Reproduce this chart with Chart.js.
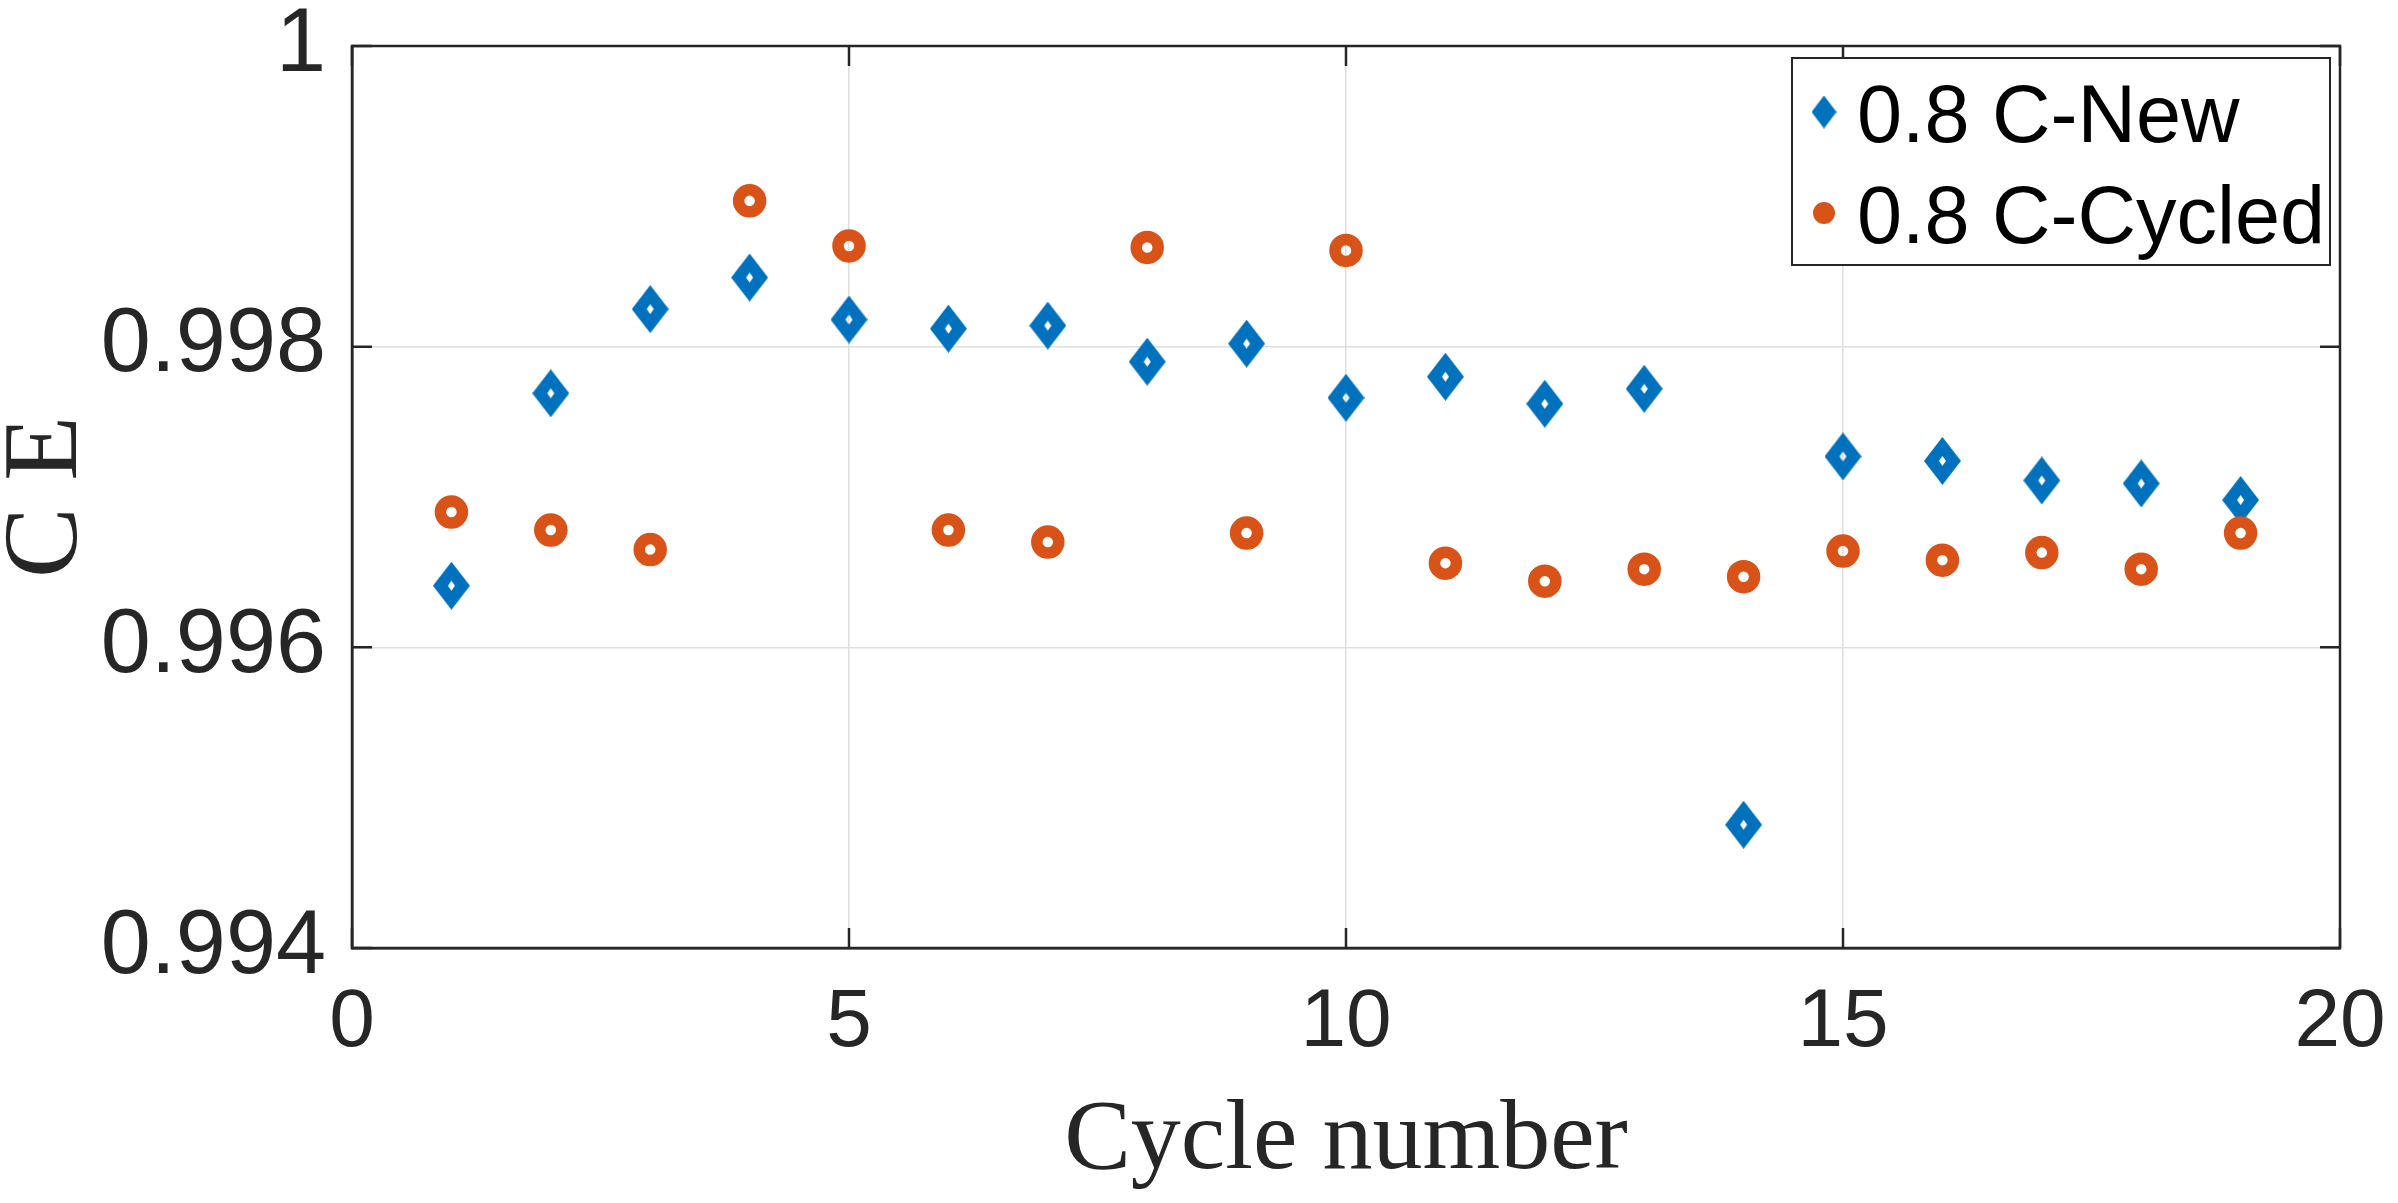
<!DOCTYPE html>
<html>
<head>
<meta charset="utf-8">
<script src="https://cdn.jsdelivr.net/npm/chart.js@4.4.1/dist/chart.umd.min.js"></script>
<style>
  html, body { margin: 0; padding: 0; background: #fff; }
  #wrap { width: 2398px; height: 1203px; }
</style>
</head>
<body>
<div id="wrap"><canvas id="chart" width="2398" height="1203"></canvas></div>
<script>
// data
const cycles = [1, 2, 3, 4, 5, 6, 7, 8, 9, 10, 11, 12, 13, 14, 15, 16, 17, 18, 19];
const ceNew = [0.99641, 0.99769, 0.99825, 0.99846, 0.99818, 0.99812, 0.99814, 0.99790, 0.99802, 0.99766,
               0.99780, 0.99762, 0.99772, 0.99482, 0.99727, 0.99724, 0.99711, 0.99709, 0.99698];
const ceCycled = [0.99690, 0.99678, 0.99665, 0.99897, 0.99867, 0.99678, 0.99670, 0.99866, 0.99676, 0.99864,
                  0.99656, 0.99644, 0.99652, 0.99647, 0.99664, 0.99658, 0.99663, 0.99652, 0.99676];
const seriesNames = ['0.8 C-New', '0.8 C-Cycled'];

const xTicks = [0, 5, 10, 15, 20];
const xTickLabels = ['0', '5', '10', '15', '20'];
const yTicks = [0.994, 0.996, 0.998, 1];
const yTickLabels = ['0.994', '0.996', '0.998', '1'];

const BLUE = '#0072BD';
const ORANGE = '#D95319';
const AXIS = '#262626';

// diamond marker drawn once, used as a point style
function diamondGlyph(w, h, hw, hh) {
  const c = document.createElement('canvas');
  c.width = w; c.height = h;
  const g = c.getContext('2d');
  g.fillStyle = BLUE;
  g.beginPath();
  g.moveTo(w / 2, 0); g.lineTo(w, h / 2); g.lineTo(w / 2, h); g.lineTo(0, h / 2); g.closePath();
  if (hw > 0) {
    g.moveTo(w / 2, h / 2 - hh); g.lineTo(w / 2 + hw, h / 2); g.lineTo(w / 2, h / 2 + hh); g.lineTo(w / 2 - hw, h / 2); g.closePath();
  }
  g.fill('evenodd');
  return c;
}
const diamond = diamondGlyph(37, 48, 3.5, 5);
const diamondSmall = diamondGlyph(25, 33, 0, 0);

// matlab style box with inward ticks
const boxPlugin = {
  id: 'box',
  afterDatasetsDraw(chart) {
    const { ctx, chartArea: a, scales: { x, y } } = chart;
    const len = 20;
    ctx.save();
    ctx.strokeStyle = AXIS;
    ctx.lineWidth = 2.5;
    ctx.strokeRect(a.left, a.top, a.right - a.left, a.bottom - a.top);
    ctx.beginPath();
    xTicks.forEach(v => {
      const px = x.getPixelForValue(v);
      ctx.moveTo(px, a.bottom); ctx.lineTo(px, a.bottom - len);
      ctx.moveTo(px, a.top); ctx.lineTo(px, a.top + len);
    });
    yTicks.forEach(v => {
      const py = y.getPixelForValue(v);
      ctx.moveTo(a.left, py); ctx.lineTo(a.left + len, py);
      ctx.moveTo(a.right, py); ctx.lineTo(a.right - len, py);
    });
    ctx.stroke();
    ctx.restore();
  },
  afterDraw(chart) {
    // legend box, top right inside the axes
    const { ctx, chartArea: a } = chart;
    const w = 538, h = 207;
    const left = a.right - 10 - w, top = a.top + 12;
    ctx.save();
    ctx.fillStyle = '#fff';
    ctx.fillRect(left, top, w, h);
    ctx.strokeStyle = AXIS;
    ctx.lineWidth = 2;
    ctx.strokeRect(left, top, w, h);
    const mx = left + 32;
    ctx.drawImage(diamondSmall, mx - diamondSmall.width / 2, top + 54 - diamondSmall.height / 2);
    ctx.fillStyle = ORANGE;
    ctx.beginPath();
    ctx.arc(mx, top + 155, 11, 0, Math.PI * 2);
    ctx.fill();
    ctx.fillStyle = '#000';
    ctx.font = '81px "Liberation Sans", Arial, sans-serif';
    ctx.textBaseline = 'alphabetic';
    ctx.fillText(seriesNames[0], left + 65, top + 84);
    ctx.fillText(seriesNames[1], left + 65, top + 185);
    ctx.restore();
  }
};

new Chart(document.getElementById('chart'), {
  type: 'scatter',
  data: {
    datasets: [
      {
        label: seriesNames[0],
        data: cycles.map((c, i) => ({ x: c, y: ceNew[i] })),
        pointStyle: diamond,
        pointRadius: 18,
        order: 1
      },
      {
        label: seriesNames[1],
        data: cycles.map((c, i) => ({ x: c, y: ceCycled[i] })),
        pointStyle: 'circle',
        pointRadius: 11,
        borderWidth: 11.5,
        borderColor: ORANGE,
        backgroundColor: 'rgba(0,0,0,0)',
        order: 0
      }
    ]
  },
  options: {
    responsive: false,
    animation: false,
    devicePixelRatio: 1,
    events: [],
    layout: { autoPadding: false, padding: { top: 46, right: 58, left: 0, bottom: 0 } },
    plugins: { legend: { display: false }, tooltip: { enabled: false } },
    scales: {
      x: {
        type: 'linear',
        position: 'bottom',
        min: 0,
        max: 20,
        afterBuildTicks: s => { s.ticks = xTicks.map(v => ({ value: v })); },
        afterFit: s => { s.height = 255; s.paddingLeft = 0; s.paddingRight = 0; },
        ticks: {
          autoSkip: false,
          maxRotation: 0,
          padding: 34,
          color: AXIS,
          font: { family: '"Liberation Sans", Arial, sans-serif', size: 82, lineHeight: 1 },
          callback: (v, i) => xTickLabels[i]
        },
        grid: { color: '#dedede', lineWidth: 1.5, drawTicks: false },
        border: { display: true, color: AXIS, width: 2.5 },
        title: {
          display: true,
          text: 'Cycle number',
          color: AXIS,
          font: { family: '"Liberation Serif", "Times New Roman", serif', size: 100, lineHeight: 1 },
          padding: { top: 0, bottom: 11 }
        }
      },
      y: {
        type: 'linear',
        position: 'left',
        min: 0.994,
        max: 1,
        afterBuildTicks: s => { s.ticks = yTicks.map(v => ({ value: v })); },
        afterFit: s => { s.width = 352; s.paddingTop = 0; s.paddingBottom = 0; },
        ticks: {
          padding: 26,
          color: AXIS,
          font: { family: '"Liberation Sans", Arial, sans-serif', size: 90, lineHeight: 1 },
          callback: (v, i) => yTickLabels[i]
        },
        grid: { color: '#dedede', lineWidth: 1.5, drawTicks: false },
        border: { display: true, color: AXIS, width: 2.5 },
        title: {
          display: true,
          text: 'C E',
          color: AXIS,
          font: { family: '"Liberation Serif", "Times New Roman", serif', size: 106, lineHeight: 0.9 },
          padding: 0
        }
      }
    }
  },
  plugins: [boxPlugin]
});
</script>
</body>
</html>
